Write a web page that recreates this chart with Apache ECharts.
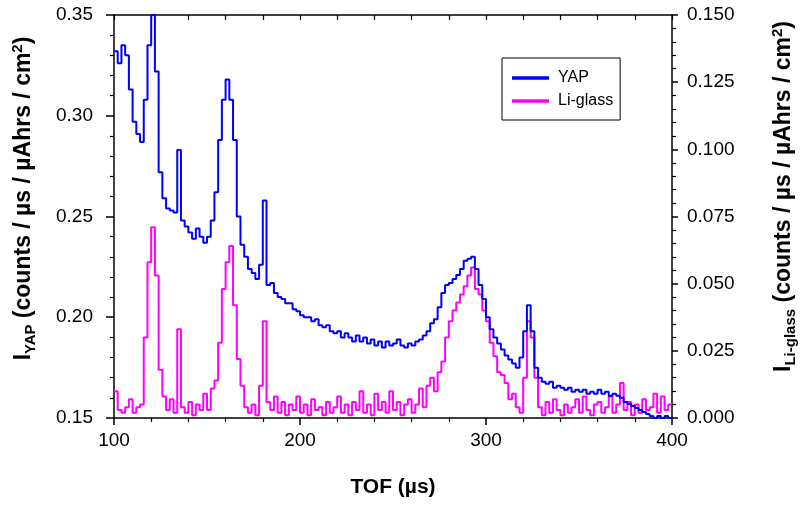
<!DOCTYPE html>
<html><head><meta charset="utf-8">
<script src="https://cdn.jsdelivr.net/npm/echarts@6/dist/echarts.min.js"></script>
<style>html,body{margin:0;padding:0;background:#fff}#c{width:806px;height:507px}</style>
</head><body><div id="c"></div>
<script>
const tof = [100,102,104,106,108,110,112,114,116,118,120,122,124,126,128,130,132,134,136,138,140,142,144,146,148,150,152,154,156,158,160,162,164,166,168,170,172,174,176,178,180,182,184,186,188,190,192,194,196,198,200,202,204,206,208,210,212,214,216,218,220,222,224,226,228,230,232,234,236,238,240,242,244,246,248,250,252,254,256,258,260,262,264,266,268,270,272,274,276,278,280,282,284,286,288,290,292,294,296,298,300,302,304,306,308,310,312,314,316,318,320,322,324,326,328,330,332,334,336,338,340,342,344,346,348,350,352,354,356,358,360,362,364,366,368,370,372,374,376,378,380,382,384,386,388,390,392,394,396,398,400];
const yap = [0.332,0.326,0.335,0.330,0.313,0.297,0.291,0.287,0.308,0.335,0.350,0.322,0.272,0.259,0.254,0.253,0.252,0.283,0.248,0.245,0.242,0.239,0.244,0.240,0.237,0.240,0.248,0.262,0.288,0.308,0.318,0.308,0.288,0.250,0.236,0.230,0.224,0.222,0.219,0.226,0.258,0.216,0.217,0.212,0.210,0.209,0.207,0.207,0.204,0.203,0.201,0.200,0.200,0.198,0.199,0.196,0.195,0.196,0.193,0.192,0.193,0.190,0.192,0.190,0.188,0.191,0.188,0.190,0.187,0.189,0.186,0.188,0.185,0.188,0.186,0.187,0.189,0.186,0.185,0.187,0.186,0.188,0.189,0.191,0.193,0.197,0.199,0.205,0.212,0.216,0.217,0.219,0.221,0.224,0.228,0.229,0.230,0.224,0.216,0.209,0.200,0.194,0.190,0.187,0.184,0.181,0.179,0.177,0.175,0.180,0.193,0.206,0.193,0.175,0.170,0.168,0.167,0.168,0.165,0.166,0.165,0.164,0.165,0.163,0.164,0.163,0.164,0.162,0.163,0.162,0.164,0.162,0.163,0.161,0.162,0.161,0.160,0.158,0.157,0.156,0.155,0.154,0.153,0.152,0.151,0.150,0.151,0.150,0.151,0.150,0.150];
const liglass = [0.010,0.003,0.002,0.004,0.007,0.002,0.004,0.005,0.030,0.058,0.071,0.053,0.018,0.008,0.003,0.007,0.002,0.033,0.004,0.002,0.006,0.001,0.005,0.003,0.009,0.003,0.011,0.014,0.028,0.048,0.058,0.064,0.042,0.022,0.012,0.004,0.002,0.005,0.001,0.012,0.036,0.006,0.003,0.008,0.002,0.006,0.001,0.005,0.003,0.008,0.002,0.005,0.001,0.007,0.003,0.004,0.001,0.006,0.002,0.004,0.008,0.002,0.005,0.001,0.006,0.003,0.010,0.002,0.005,0.001,0.009,0.003,0.006,0.002,0.010,0.003,0.006,0.001,0.005,0.007,0.002,0.005,0.011,0.004,0.012,0.015,0.010,0.017,0.021,0.030,0.036,0.040,0.043,0.046,0.049,0.053,0.056,0.048,0.046,0.040,0.036,0.028,0.023,0.017,0.016,0.013,0.007,0.009,0.004,0.002,0.015,0.036,0.030,0.015,0.004,0.001,0.006,0.002,0.007,0.003,0.001,0.005,0.002,0.004,0.007,0.002,0.008,0.003,0.001,0.005,0.006,0.002,0.004,0.008,0.002,0.005,0.013,0.003,0.006,0.001,0.005,0.002,0.007,0.003,0.004,0.009,0.002,0.008,0.003,0.005,0.005];
const xTicks = [100,200,300,400];
const seriesNames = ['YAP','Li-glass'];

const FONT = 'Liberation Sans, Arial, Helvetica, sans-serif';
const chart = echarts.init(document.getElementById('c'), null, {renderer:'canvas'});
const axisLine = {show:true, onZero:false, lineStyle:{color:'#000', width:1.5}};
const nameRich = {
  b:{fontSize:23, fontWeight:'bold', fontFamily:FONT, color:'#000', lineHeight:28},
  sub:{fontSize:15, fontWeight:'bold', fontFamily:FONT, color:'#000', lineHeight:14, verticalAlign:'bottom'},
  sup:{fontSize:15, fontWeight:'bold', fontFamily:FONT, color:'#000', lineHeight:14, verticalAlign:'top'}
};
chart.setOption({
  animation:false,
  backgroundColor:'#fff',
  grid:{left:114, right:131, top:15, bottom:89, containLabel:false},
  legend:{
    data:seriesNames, orient:'vertical', left:502, top:58,
    itemWidth:37, itemHeight:14, itemGap:7,
    padding:[12,7,11,10], borderColor:'#000', borderWidth:1,
    textStyle:{fontFamily:FONT, fontSize:16, color:'#000', padding:[0,0,0,4]},
    icon:'path://M0,0 L10,0 L10,1 L0,1 Z'
  },
  xAxis:[{
    type:'value', min:xTicks[0], max:xTicks[xTicks.length-1], interval:100, position:'bottom',
    axisLine:axisLine,
    axisTick:{show:true, inside:false, length:7, lineStyle:{color:'#000', width:1.5}},
    minorTick:{show:true, splitNumber:5, length:4, lineStyle:{color:'#000', width:1.2}},
    splitLine:{show:false},
    axisLabel:{fontFamily:FONT, fontSize:19, color:'#000', margin:13},
    name:'TOF (µs)', nameLocation:'middle', nameGap:59,
    nameTextStyle:{fontFamily:FONT, fontSize:21, fontWeight:'bold', color:'#000'}
  },{
    type:'value', min:100, max:400, interval:100, position:'top',
    axisLine:axisLine,
    axisTick:{show:true, inside:true, length:5, lineStyle:{color:'#000', width:1.2}},
    minorTick:{show:true, splitNumber:5, length:5, lineStyle:{color:'#000', width:1.2}},
    splitLine:{show:false}, axisLabel:{show:false}
  }],
  yAxis:[{
    type:'value', min:0.15, max:0.35, interval:0.05, position:'left',
    axisLine:axisLine,
    axisTick:{show:true, inside:false, length:8, lineStyle:{color:'#000', width:1.5}},
    minorTick:{show:true, splitNumber:5, length:4, lineStyle:{color:'#000', width:1.2}},
    splitLine:{show:false},
    axisLabel:{fontFamily:FONT, fontSize:19, color:'#000', margin:21, formatter:v=>v.toFixed(2)},
    name:'{b|I}{sub|YAP}{b| (counts / µs / µAhrs / cm}{sup|2}{b|)}',
    nameLocation:'middle', nameGap:76, nameRotate:90,
    nameTextStyle:{rich:nameRich, padding:[0,0,0,36]}
  },{
    type:'value', min:0, max:0.15, interval:0.025, position:'right',
    axisLine:axisLine,
    axisTick:{show:true, inside:false, length:6, lineStyle:{color:'#000', width:1.5}},
    minorTick:{show:true, splitNumber:5, length:4, lineStyle:{color:'#000', width:1.2}},
    splitLine:{show:false},
    axisLabel:{fontFamily:FONT, fontSize:19, color:'#000', margin:15, formatter:v=>v.toFixed(3)},
    name:'{b|I}{sub|Li-glass}{b| (counts / µs / µAhrs / cm}{sup|2}{b|)}',
    nameLocation:'middle', nameGap:98, nameRotate:90,
    nameTextStyle:{rich:nameRich, padding:[0,0,0,40]}
  }],
  series:[{
    name:seriesNames[0], type:'line', step:'end', xAxisIndex:0, yAxisIndex:0,
    symbol:'none', color:'#0000ff', lineStyle:{color:'#0000ff', width:2},
    data:tof.map((t,i)=>[t, yap[i]]), z:3
  },{
    name:seriesNames[1], type:'line', step:'end', xAxisIndex:0, yAxisIndex:1,
    symbol:'none', color:'#ff00ff', lineStyle:{color:'#ff00ff', width:2},
    data:tof.map((t,i)=>[t, liglass[i]]), z:2
  }]
});
</script></body></html>
